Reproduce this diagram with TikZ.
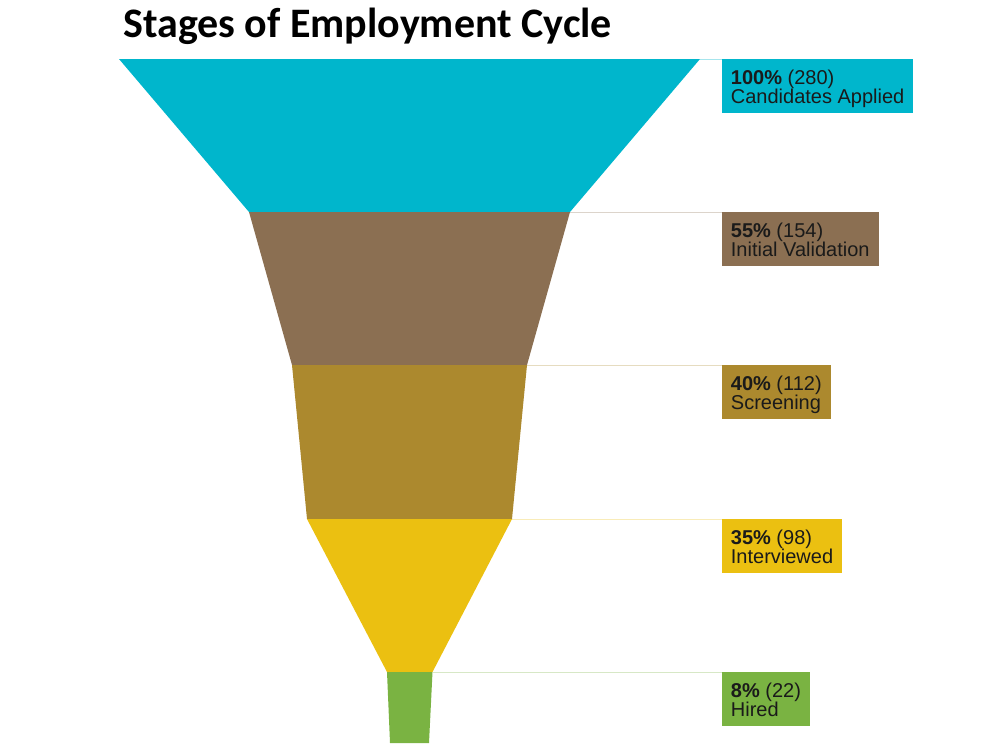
\documentclass[tikz,border=0pt]{standalone}
\usepackage{fontspec}
\setmainfont{Liberation Sans}
\newfontfamily\titlefont{Carlito}
\definecolor{cA}{HTML}{00B6CC}
\definecolor{cB}{HTML}{8B6F52}
\definecolor{cC}{HTML}{AC892E}
\definecolor{cD}{HTML}{EBC011}
\definecolor{cE}{HTML}{7AB342}
\definecolor{txt}{HTML}{1A1A1A}
\begin{document}
\begin{tikzpicture}[x=1pt,y=-1pt,
  labelbox/.style={anchor=north west, inner xsep=9pt, inner ysep=0pt,
    minimum height=53.3pt, align=left, text=txt,
    font=\fontsize{20}{19.4}\selectfont},
  leader/.style={line width=1pt},
  stagefill/.style={draw=none}]
\useasboundingbox (0,0) rectangle (1000,750);

% title
\node[anchor=base west, inner sep=0pt, font=\titlefont\bfseries\fontsize{42}{50}\selectfont]
  (title) at (123,37.5) {Stages of Employment Cycle};

% funnel corners
\coordinate (L0) at (119,59);   \coordinate (R0) at (700,59);
\coordinate (L1) at (249,212);  \coordinate (R1) at (570,212);
\coordinate (L2) at (292,365);  \coordinate (R2) at (527,365);
\coordinate (L3) at (307,519);  \coordinate (R3) at (512,519);
\coordinate (L4) at (387,672);  \coordinate (R4) at (432.5,672);
\coordinate (L5) at (390,743);  \coordinate (R5) at (429,743);

% labels
\node[labelbox, fill=cA] (lab1) at (721.7,59)
  {\rule{0pt}{16.1pt}\textbf{100\%} (280)\\\smash{Candidates Applied}};
\node[labelbox, fill=cB] (lab2) at (721.7,212)
  {\rule{0pt}{16.1pt}\textbf{55\%} (154)\\\smash{Initial Validation}};
\node[labelbox, fill=cC] (lab3) at (721.7,365)
  {\rule{0pt}{16.1pt}\textbf{40\%} (112)\\\smash{Screening}};
\node[labelbox, fill=cD] (lab4) at (721.7,519)
  {\rule{0pt}{16.1pt}\textbf{35\%} (98)\\\smash{Interviewed}};
\node[labelbox, fill=cE] (lab5) at (721.7,672)
  {\rule{0pt}{16.1pt}\textbf{8\%} (22)\\\smash{Hired}};

% leader lines
\draw[leader, cA!35] (R0) -- (lab1.north west);
\draw[leader, cB!30] (R1) -- (lab2.north west);
\draw[leader, cC!30] (R2) -- (lab3.north west);
\draw[leader, cD!30] (R3) -- (lab4.north west);
\draw[leader, cE!30] (R4) -- (lab5.north west);

% funnel stages
\fill[stagefill, cA] (L0) -- (R0) -- (R1) -- (L1) -- cycle;
\fill[stagefill, cB] (L1) -- (R1) -- (R2) -- (L2) -- cycle;
\fill[stagefill, cC] (L2) -- (R2) -- (R3) -- (L3) -- cycle;
\fill[stagefill, cD] (L3) -- (R3) -- (R4) -- (L4) -- cycle;
\fill[stagefill, cE] (L4) -- (R4) -- (R5) -- (L5) -- cycle;
\end{tikzpicture}
\end{document}
